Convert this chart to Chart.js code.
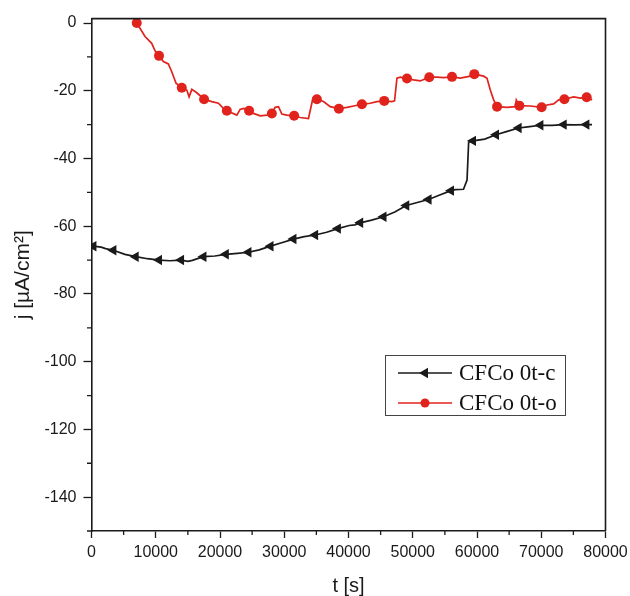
<!DOCTYPE html>
<html>
<head>
<meta charset="utf-8">
<script src="https://cdn.jsdelivr.net/npm/chart.js@4.4.1/dist/chart.umd.min.js"></script>
<style>
  html, body { margin: 0; padding: 0; background: #fff; }
  canvas { display: block; }
</style>
</head>
<body>
<canvas id="chart" width="630" height="596"></canvas>
<script>
// --- DATA ---

const seriesLabels = ['CFCo 0t-c', 'CFCo 0t-o'];

// CFCo 0t-c : marker points + extra vertices of the line
const cMarkT = [300, 3400, 6880, 10510, 13940, 17420, 20900, 24430, 27860, 31430, 34810, 38350,
  41820, 45450, 48990, 52460, 55950, 59380, 62960, 66480, 69860, 73490, 77020];
const cMarkJ = [-65.9, -67.1, -69.0, -70.0, -70.0, -69.0, -68.3, -67.7, -65.9, -63.8, -62.6, -60.7,
  -59.0, -57.2, -53.9, -52.1, -49.5, -34.8, -33.0, -31.0, -30.2, -30.0, -30.0];
const cPathT = [0, 1500, 2200, 5200, 8700, 12200, 15000, 15700, 19200, 22700, 26100, 29600, 33100,
  36600, 40100, 41000, 43600, 47200, 50700, 54200, 56600, 57900, 58450, 58700, 61200, 64700,
  68200, 71700, 75200, 77900];
const cPathJ = [-65.6, -66.2, -66.6, -68.3, -69.6, -70.2, -70.4, -70.1, -68.8, -68.0, -67.0, -64.9, -63.1,
  -61.8, -59.8, -59.6, -58.2, -55.8, -53.0, -50.8, -49.2, -49.1, -46.4, -35.2, -34.3, -32.0,
  -30.6, -30.2, -30.1, -30.0];

// CFCo 0t-o
const oMarkT = [7040, 10510, 14050, 17520, 21060, 24530, 28070, 31540, 35080, 38500, 42090,
  45560, 49100, 52570, 56110, 59580, 63120, 66590, 70060, 73600, 77070];
const oMarkJ = [0, -9.7, -19.1, -22.5, -25.9, -25.9, -26.7, -27.4, -22.5, -25.3, -24.0,
  -23.0, -16.4, -16.0, -15.9, -15.1, -24.7, -24.4, -24.9, -22.5, -21.9];
const oPathT = [8330, 9370, 9890, 11190, 11960, 12490, 13160, 14830, 15190, 15610, 16390, 18720,
  19750, 20530, 22620, 23130, 23650, 25200, 26250, 27290, 28580, 29100, 29630, 30400, 32480,
  33770, 34450, 36110, 37150, 39750, 40800, 43380, 44420, 46760, 47170, 47540, 48050, 50130,
  51170, 53770, 54800, 57400, 58180, 58960, 61030, 61560, 62070, 62590, 64670, 65970, 66120,
  68300, 70900, 71930, 72710, 75050, 76090, 77910];
const oPathJ = [-4.0, -6.0, -8.2, -11.4, -12.1, -14.4, -17.8, -19.8, -21.8, -19.6, -20.6, -23.2,
  -23.7, -25.2, -27.2, -25.5, -25.2, -26.7, -27.4, -27.2, -24.9, -24.7, -26.9, -27.2, -27.9,
  -28.2, -22.3, -23.2, -24.7, -24.9, -24.5, -23.7, -23.2, -23.2, -23.0, -16.3, -16.0, -16.8,
  -17.1, -16.0, -16.1, -16.3, -16.0, -15.7, -15.7, -16.3, -19.8, -22.7, -24.9, -24.7, -22.7,
  -24.5, -24.2, -23.9, -22.7, -21.8, -22.2, -22.7];

const xTicks = [0, 10000, 20000, 30000, 40000, 50000, 60000, 70000, 80000];
const xMinor = [5000, 15000, 25000, 35000, 45000, 55000, 65000, 75000];
const yTicks = [0, -20, -40, -60, -80, -100, -120, -140];
const yMinor = [-10, -30, -50, -70, -90, -110, -130, -150];

// --- HELPERS ---

const INK = '#1a1a1a';
const RED = '#e0231c';

function toPoints(ts, js) {
  return ts.map((t, i) => ({ x: t, y: js[i] }));
}

function mergePath(markT, markJ, pathT, pathJ) {
  return toPoints(markT, markJ).concat(toPoints(pathT, pathJ)).sort((a, b) => a.x - b.x);
}

// top/right frame + short minor ticks on the left/bottom axes
const framePlugin = {
  id: 'frame',
  afterDraw(chart) {
    const { ctx, chartArea: a, scales } = chart;
    ctx.save();
    ctx.strokeStyle = INK;
    ctx.lineWidth = 1.6;
    ctx.beginPath();
    ctx.moveTo(a.left, a.top);
    ctx.lineTo(a.right, a.top);
    ctx.lineTo(a.right, a.bottom);
    ctx.stroke();

    ctx.lineWidth = 1.3;
    ctx.beginPath();
    yMinor.forEach(v => {
      const y = scales.y.getPixelForValue(v);
      ctx.moveTo(a.left - 4.5, y);
      ctx.lineTo(a.left, y);
    });
    xMinor.forEach(v => {
      const x = scales.x.getPixelForValue(v);
      ctx.moveTo(x, a.bottom);
      ctx.lineTo(x, a.bottom + 4);
    });
    ctx.stroke();
    ctx.restore();
  }
};

// boxed legend inside the plot, serif like the original
const legendPlugin = {
  id: 'boxLegend',
  afterDraw(chart) {
    const { ctx } = chart;
    const box = { x: 385, y: 355, w: 180, h: 60 };
    ctx.save();
    ctx.fillStyle = '#fff';
    ctx.fillRect(box.x, box.y, box.w, box.h);
    ctx.strokeStyle = '#444';
    ctx.lineWidth = 1;
    ctx.strokeRect(box.x + 0.5, box.y + 0.5, box.w, box.h);

    const rows = [
      { line: chart.data.datasets[0], mark: chart.data.datasets[2], y: 373 },
      { line: chart.data.datasets[1], mark: chart.data.datasets[3], y: 403 }
    ];
    rows.forEach(r => {
      ctx.strokeStyle = r.line.borderColor;
      ctx.lineWidth = 1.6;
      ctx.beginPath();
      ctx.moveTo(398, r.y);
      ctx.lineTo(452, r.y);
      ctx.stroke();
      ctx.fillStyle = r.mark.backgroundColor;
      Chart.helpers.drawPoint(ctx, {
        pointStyle: r.mark.pointStyle,
        radius: r.mark.pointStyle === 'circle' ? 4.5 : 6,
        rotation: r.mark.rotation || 0,
        borderWidth: 0
      }, 425, r.y);
      ctx.fillStyle = '#111';
      ctx.font = '23px "Liberation Serif", "Times New Roman", serif';
      ctx.textBaseline = 'middle';
      ctx.fillText(r.line.label, 459, r.y + 1);
    });
    ctx.restore();
  }
};

// --- CHART ---

const tickFont = { family: '"Liberation Sans", Arial, sans-serif', size: 16 };
const titleFont = { family: '"Liberation Sans", Arial, sans-serif', size: 20, lineHeight: 1 };
const yTitleFont = { family: '"Liberation Sans", Arial, sans-serif', size: 21, lineHeight: 1 };

new Chart(document.getElementById('chart'), {
  type: 'line',
  data: {
    datasets: [
      {
        label: seriesLabels[0],
        data: mergePath(cMarkT, cMarkJ, cPathT, cPathJ),
        borderColor: INK, borderWidth: 1.7, pointRadius: 0, tension: 0
      },
      {
        label: seriesLabels[1],
        data: mergePath(oMarkT, oMarkJ, oPathT, oPathJ),
        borderColor: RED, borderWidth: 1.7, pointRadius: 0, tension: 0
      },
      {
        label: seriesLabels[0] + ' markers',
        data: toPoints(cMarkT, cMarkJ),
        showLine: false, pointStyle: 'triangle', rotation: -90, pointRadius: 6,
        backgroundColor: INK, borderColor: INK, borderWidth: 0
      },
      {
        label: seriesLabels[1] + ' markers',
        data: toPoints(oMarkT, oMarkJ),
        showLine: false, pointStyle: 'circle', pointRadius: 5,
        backgroundColor: RED, borderColor: RED, borderWidth: 0
      }
    ]
  },
  options: {
    responsive: false,
    animation: false,
    layout: { padding: { left: 0, right: 24.5, top: 18.6, bottom: 0 } },
    plugins: { legend: { display: false }, tooltip: { enabled: false } },
    scales: {
      x: {
        type: 'linear',
        min: 0,
        max: 80000,
        afterBuildTicks: s => { s.ticks = xTicks.map(v => ({ value: v })); },
        afterFit: s => { s.height = 65; s.paddingLeft = 0; s.paddingRight = 0; },
        ticks: { font: tickFont, color: INK, padding: 5, maxRotation: 0, callback: v => String(v) },
        grid: { drawOnChartArea: false, tickLength: 7, tickWidth: 1.3, tickColor: INK },
        border: { color: INK, width: 1.6 },
        title: { display: true, text: 't [s]', font: titleFont, color: INK, padding: { top: 0, bottom: 0 } }
      },
      y: {
        type: 'linear',
        min: -150,
        max: 1.3,
        afterBuildTicks: s => { s.ticks = yTicks.map(v => ({ value: v })); },
        afterFit: s => { s.width = 91.5; s.paddingTop = 0; s.paddingBottom = 0; },
        ticks: { font: tickFont, color: INK, padding: 7, callback: v => String(v) },
        grid: { drawOnChartArea: false, tickLength: 8, tickWidth: 1.3, tickColor: INK },
        border: { color: INK, width: 1.6 },
        title: { display: true, text: 'j [µA/cm²]', font: yTitleFont, color: INK, padding: { top: 13, bottom: 0 } }
      }
    }
  },
  plugins: [framePlugin, legendPlugin]
});
</script>
</body>
</html>
